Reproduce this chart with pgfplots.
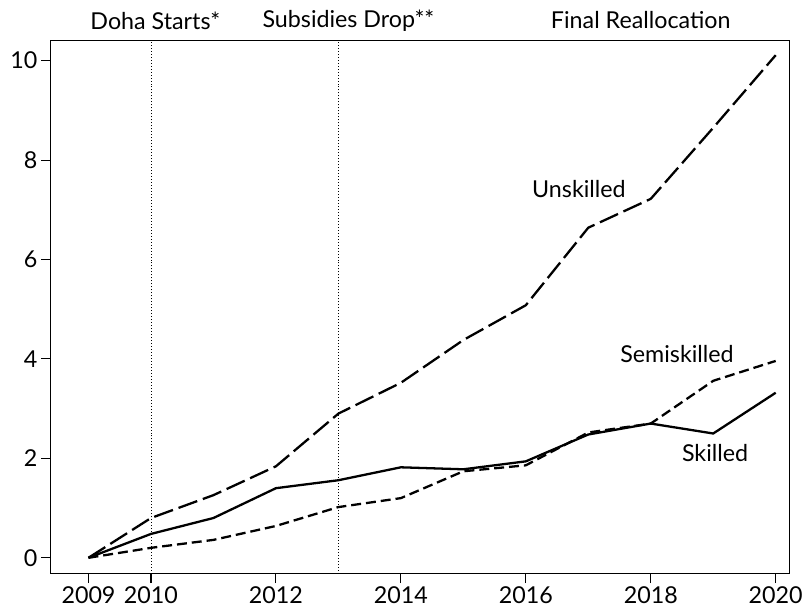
\documentclass[border=0pt]{standalone}
\usepackage{pgfplots}
\pgfplotsset{compat=1.18}
\usepackage{fontspec}
\setmainfont{Lato}

\begin{document}
\begin{tikzpicture}
  \begin{axis}[
      scale only axis,
      width=743pt, height=536.5pt,
      xmin=2008.395, xmax=2020.22,
      ymin=-0.32, ymax=10.41,
      axis lines=box,
      xtick={2009,2010,2012,2014,2016,2018,2020},
      ytick={0,2,4,6,8,10},
      tick align=outside,
      xtick pos=bottom, ytick pos=left,
      major tick length=9.5pt,
      every axis/.append style={line width=1.1pt},
      every tick/.style={black, line width=1.1pt},
      font=\fontsize{23.4}{27}\selectfont,
      tick label style={font=\fontsize{23.4}{27}\selectfont},
      x tick label style={/pgf/number format/1000 sep={}},
      /pgf/number format/assume math mode=true,
      clip=false,
    ]

    % event markers
    \addplot[black, line width=0.9pt, dash pattern=on 1pt off 2pt]
      coordinates {(2010,-0.32)(2010,10.41)};
    \addplot[black, line width=0.9pt, dash pattern=on 1pt off 2pt]
      coordinates {(2013,-0.32)(2013,10.41)};

    % Unskilled
    \addplot[black, line width=2.3pt, dash pattern=on 20pt off 6pt]
      coordinates {
        (2009,0)(2010,0.80)(2011,1.26)(2012,1.84)(2013,2.90)(2014,3.52)
        (2015,4.38)(2016,5.08)(2017,6.64)(2018,7.22)(2019,8.65)(2020,10.11)
      };
    % Skilled
    \addplot[black, line width=2.3pt]
      coordinates {
        (2009,0)(2010,0.48)(2011,0.80)(2012,1.40)(2013,1.56)(2014,1.82)
        (2015,1.78)(2016,1.94)(2017,2.48)(2018,2.70)(2019,2.50)(2020,3.32)
      };
    % Semiskilled
    \addplot[black, line width=2.3pt, dash pattern=on 10pt off 5pt]
      coordinates {
        (2009,0)(2010,0.20)(2011,0.36)(2012,0.64)(2013,1.02)(2014,1.20)
        (2015,1.74)(2016,1.86)(2017,2.52)(2018,2.70)(2019,3.56)(2020,3.96)
      };

    \node at (axis cs:2016.85,7.42) {Unskilled};
    \node at (axis cs:2018.42,4.10) {Semiskilled};
    \node at (axis cs:2019.03,2.10) {Skilled};

    \node at (axis cs:2010.07,10.81) {Doha Starts*};
    \node at (axis cs:2013.16,10.81) {Subsidies Drop**};
    \node at (axis cs:2017.84,10.81) {Final Reallocation};
  \end{axis}
  \path ([shift={(-51pt,-39pt)}]current axis.south west)
    rectangle ([shift={(12pt,40.5pt)}]current axis.north east);
\end{tikzpicture}
\end{document}
